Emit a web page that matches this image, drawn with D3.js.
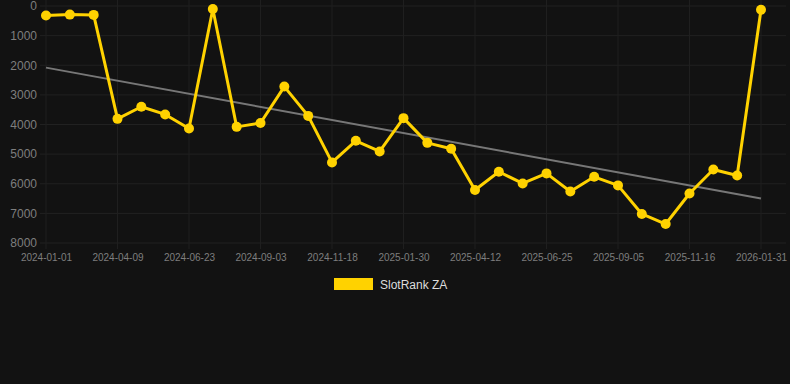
<!DOCTYPE html>
<html>
<head>
<meta charset="utf-8">
<script src="https://cdn.jsdelivr.net/npm/d3@7"></script>
<style>
  html, body { margin: 0; padding: 0; background: #121212; }
  svg { display: block; }
</style>
</head>
<body>
<div id="chart"></div>
<script>
// data
const dates = [
  '2024-01-01', '2024-02-03', '2024-03-07', '2024-04-09', '2024-05-04', '2024-05-29',
  '2024-06-23', '2024-07-17', '2024-08-10', '2024-09-03', '2024-09-28', '2024-10-24',
  '2024-11-18', '2024-12-12', '2025-01-06', '2025-01-30', '2025-02-23', '2025-03-19',
  '2025-04-12', '2025-05-07', '2025-06-01', '2025-06-25', '2025-07-19', '2025-08-12',
  '2025-09-05', '2025-09-29', '2025-10-23', '2025-11-16', '2025-12-11', '2026-01-06',
  '2026-01-31'
];
const ranks = [
  320, 290, 300, 3810, 3400, 3660, 4135, 100, 4080, 3950,
  2720, 3710, 5280, 4550, 4910, 3785, 4620, 4820, 6210, 5595,
  5990, 5650, 6260, 5765, 6055, 7020, 7360, 6330, 5520, 5720,
  125
];
const trendEnds = [2080, 6500];
const yTicks = [0, 1000, 2000, 3000, 4000, 5000, 6000, 7000, 8000];
const seriesName = 'SlotRank ZA';

//常量区
const width = 790, height = 384;
const margin = { top: 6, right: 29, bottom: 141, left: 46 };
const plotW = width - margin.left - margin.right;
const plotH = height - margin.top - margin.bottom;
const yellow = '#ffd200';

const svg = d3.select('#chart').append('svg')
  .attr('width', width)
  .attr('height', height)
  .style('font-family', '"Liberation Sans", Arial, sans-serif');

svg.append('rect').attr('width', width).attr('height', height).attr('fill', '#121212');

const g = svg.append('g').attr('transform', `translate(${margin.left},${margin.top})`);

const x = d3.scalePoint().domain(dates).range([0, plotW]);
const y = d3.scaleLinear().domain([0, 8000]).range([0, plotH]);

// grid
g.append('g')
  .selectAll('line')
  .data(yTicks)
  .join('line')
  .attr('x1', -6).attr('x2', plotW + 25)
  .attr('y1', d => y(d)).attr('y2', d => y(d))
  .attr('stroke', '#212121')
  .attr('stroke-width', 1);

const xTickVals = dates.filter((d, i) => i % 3 === 0);
g.append('g')
  .selectAll('line')
  .data(xTickVals)
  .join('line')
  .attr('x1', d => x(d)).attr('x2', d => x(d))
  .attr('y1', -margin.top).attr('y2', plotH + 6)
  .attr('stroke', '#1f1f1f')
  .attr('stroke-width', 1);

// axes
const yAxis = g.append('g')
  .call(d3.axisLeft(y).tickValues(yTicks).tickSize(0).tickPadding(9).tickFormat(d3.format('d')));
yAxis.select('.domain').remove();
yAxis.selectAll('text').attr('fill', '#7e7e7e').style('font-size', '12px');

const xAxis = g.append('g')
  .attr('transform', `translate(0,${plotH})`)
  .call(d3.axisBottom(x).tickValues(xTickVals).tickSize(0).tickPadding(11));
xAxis.select('.domain').remove();
xAxis.selectAll('text').attr('fill', '#7e7e7e').style('font-size', '10px');

// trend
g.append('line')
  .attr('x1', x(dates[0])).attr('y1', y(trendEnds[0]))
  .attr('x2', x(dates[dates.length - 1])).attr('y2', y(trendEnds[1]))
  .attr('stroke', '#777')
  .attr('stroke-width', 2);

// series
const pts = dates.map((d, i) => ({ date: d, rank: ranks[i] }));
g.append('path')
  .datum(pts)
  .attr('d', d3.line().x(d => x(d.date)).y(d => y(d.rank)))
  .attr('fill', 'none')
  .attr('stroke', yellow)
  .attr('stroke-width', 3)
  .attr('stroke-linejoin', 'round');

g.selectAll('.pt')
  .data(pts)
  .join('circle')
  .attr('class', 'pt')
  .attr('cx', d => x(d.date))
  .attr('cy', d => y(d.rank))
  .attr('r', 5)
  .attr('fill', yellow);

// legend
const lg = svg.append('g').attr('transform', 'translate(334,278)');
lg.append('rect').attr('width', 39).attr('height', 12).attr('fill', yellow);
lg.append('text')
  .attr('x', 46).attr('y', 10.5)
  .attr('fill', '#dddddd')
  .style('font-size', '12px')
  .text(seriesName);
</script>
</body>
</html>
